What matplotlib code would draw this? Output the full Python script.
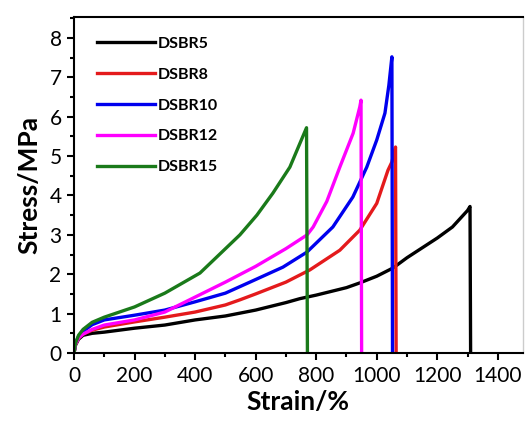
import matplotlib
matplotlib.use('Agg')
import matplotlib.pyplot as plt
from matplotlib.ticker import MultipleLocator

plt.rcParams['font.family'] = ['Lato', 'DejaVu Sans']

# strain (%) / stress (MPa)
strain_5 = [0, 5, 15, 30, 60, 100, 200, 300, 400, 500, 600, 700, 746, 800, 900, 944, 1000, 1054, 1100, 1200, 1250, 1300, 1308, 1310]
stress_5 = [0, 0.2, 0.35, 0.45, 0.5, 0.53, 0.63, 0.71, 0.84, 0.94, 1.09, 1.28, 1.38, 1.47, 1.66, 1.78, 1.95, 2.16, 2.42, 2.92, 3.2, 3.62, 3.72, 0]

strain_8 = [0, 5, 15, 30, 60, 100, 200, 300, 400, 500, 548, 600, 700, 779, 878, 944, 1000, 1037, 1050, 1058, 1062, 1064]
stress_8 = [0, 0.22, 0.38, 0.48, 0.58, 0.66, 0.79, 0.91, 1.04, 1.22, 1.35, 1.5, 1.8, 2.11, 2.61, 3.12, 3.8, 4.64, 4.85, 5.1, 5.23, 0]

strain_10 = [0, 5, 15, 30, 60, 100, 200, 300, 400, 500, 581, 690, 769, 855, 921, 967, 1000, 1027, 1040, 1050, 1052]
stress_10 = [0, 0.25, 0.42, 0.55, 0.72, 0.84, 0.96, 1.09, 1.3, 1.52, 1.8, 2.18, 2.56, 3.2, 3.96, 4.72, 5.41, 6.09, 6.8, 7.52, 0]

strain_12 = [0, 5, 15, 30, 60, 100, 200, 300, 400, 500, 600, 700, 770, 790, 835, 878, 922, 944, 948, 950]
stress_12 = [0, 0.22, 0.38, 0.48, 0.6, 0.71, 0.84, 1.04, 1.42, 1.8, 2.2, 2.65, 3.0, 3.2, 3.85, 4.72, 5.58, 6.25, 6.42, 0]

strain_15 = [0, 5, 15, 30, 60, 100, 200, 300, 416, 480, 548, 604, 657, 713, 768, 771]
stress_15 = [0, 0.25, 0.45, 0.6, 0.78, 0.91, 1.17, 1.52, 2.03, 2.5, 3.0, 3.5, 4.06, 4.72, 5.72, 0]

labels = ['DSBR5', 'DSBR8', 'DSBR10', 'DSBR12', 'DSBR15']
colors = ['#000000', '#e41a1c', '#0000ee', '#ff00ff', '#1a7a1a']

fig = plt.figure(figsize=(5.26, 4.21), dpi=100)
ax = fig.add_axes([0.1407, 0.1615, 0.853, 0.798])

curves = [(strain_5, stress_5), (strain_8, stress_8), (strain_10, stress_10),
          (strain_12, stress_12), (strain_15, stress_15)]
for (sx, sy), lab, col in zip(curves, labels, colors):
    ax.plot(sx, sy, color=col, lw=2.4, label=lab)

ax.set_xlim(0, 1482)
ax.set_ylim(0, 8.53)
ax.xaxis.set_major_locator(MultipleLocator(200))
ax.xaxis.set_minor_locator(MultipleLocator(100))
ax.yaxis.set_major_locator(MultipleLocator(1))
ax.yaxis.set_minor_locator(MultipleLocator(0.5))
ax.tick_params(which='both', direction='out', width=1.5, labelsize=15)
ax.tick_params(which='major', length=5, pad=4)
ax.tick_params(which='minor', length=3)
for sp in ax.spines.values():
    sp.set_linewidth(1.5)
ax.spines['right'].set_color('#cccccc')
ax.spines['right'].set_linewidth(1.0)

ax.set_xlabel('Strain/%', fontsize=19, fontweight='bold', labelpad=3)
ax.set_ylabel('Stress/MPa', fontsize=19, fontweight='bold', labelpad=6)

leg = ax.legend(loc='upper left', frameon=False, prop={'weight': 'bold', 'size': 11.5},
                handlelength=3.6, handletextpad=0.2, labelspacing=1.05,
                bbox_to_anchor=(0.02, 0.985))

fig.savefig('out.png', dpi=100)
